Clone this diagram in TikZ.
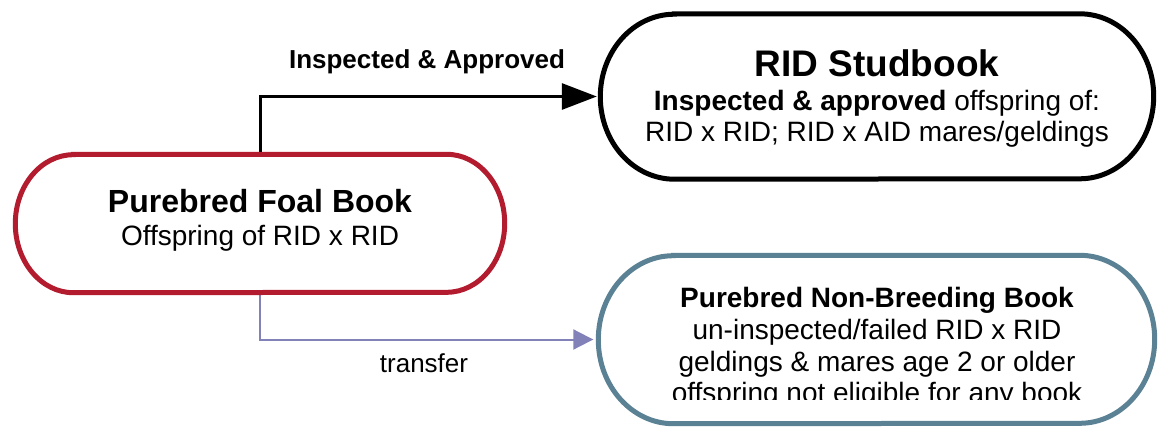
\documentclass[tikz,border=0pt]{standalone}
\usepackage{fontspec}
\setmainfont{Liberation Sans}
\usetikzlibrary{arrows.meta}

\definecolor{foalred}{HTML}{B31B2E}
\definecolor{nbblue}{HTML}{5B8194}
\definecolor{xferpurple}{HTML}{8282B8}

% stadium outline round a node: #1 node, #2 x radius, #3 y radius, #4 style
\newcommand\stadiumborder[4]{%
  \draw[#4] ([xshift=#2]#1.north west) -- ([xshift=-#2]#1.north east)
    arc[start angle=90, end angle=-90, x radius=#2, y radius=#3]
    -- ([xshift=#2]#1.south west)
    arc[start angle=270, end angle=90, x radius=#2, y radius=#3] -- cycle;}

\tikzset{
  bookframe/.style={draw=none, inner sep=0pt},
  booktext/.style={align=center, inner sep=0pt, text=black},
  edgelabel/.style={inner sep=0pt, anchor=base, font=\fontsize{26}{30}\selectfont},
  approved/.style={draw=black, line width=3pt,
    -{Triangle[length=35pt, width=26pt]}, shorten >=3.5pt},
  xfer/.style={draw=xferpurple, line width=2pt,
    -{Triangle[length=20pt, width=20pt]}, shorten >=5pt},
}

\begin{document}
\begin{tikzpicture}[x=1pt, y=-1pt]
\useasboundingbox (0,0) rectangle (1159,428);

% book frames
\node[bookframe, minimum width=489pt, minimum height=138pt] (foal) at (260,223.5) {};
\node[bookframe, minimum width=553pt, minimum height=165pt] (stud) at (877,96.5) {};
\node[bookframe, minimum width=556pt, minimum height=168pt] (nb) at (876.5,339.5) {};

% connectors
\draw[approved] (foal.north) |- (stud.west);
\draw[xfer] (foal.south) |- (nb.west);
\node[edgelabel] (apprlabel) at (427,69) {\bfseries Inspected \& Approved};
\node[edgelabel] (xferlabel) at (424,372) {transfer};

% outlines
\stadiumborder{foal}{58pt}{69pt}{draw=foalred, line width=5pt, fill=white}
\stadiumborder{stud}{74pt}{82.5pt}{draw=black, line width=5pt, fill=white}
\stadiumborder{nb}{75pt}{84pt}{draw=nbblue, line width=5pt, fill=white}

% texts
\node[booktext, font=\fontsize{28}{33}\selectfont] (foaltext) at (260,220)
  {{\bfseries\fontsize{32}{33}\selectfont Purebred Foal Book}\\
   Offspring of RID x RID};

\node[booktext, font=\fontsize{28}{31}\selectfont] (studtext) at (877,98)
  {{\bfseries\fontsize{37}{38}\selectfont RID Studbook}\\[3pt]
   {\bfseries Inspected \& approved} offspring of:\\
   RID x RID; RID x AID mares/geldings};

\begin{scope}
  \clip (590,250) rectangle (1159,399);
  \node[booktext, font=\fontsize{28}{31.7}\selectfont] (nbtext) at (877,348)
    {{\bfseries Purebred Non-Breeding Book}\\
     un-inspected/failed RID x RID\\
     geldings \& mares age 2 or older\\
     offspring not eligible for any book};
\end{scope}
\end{tikzpicture}
\end{document}
